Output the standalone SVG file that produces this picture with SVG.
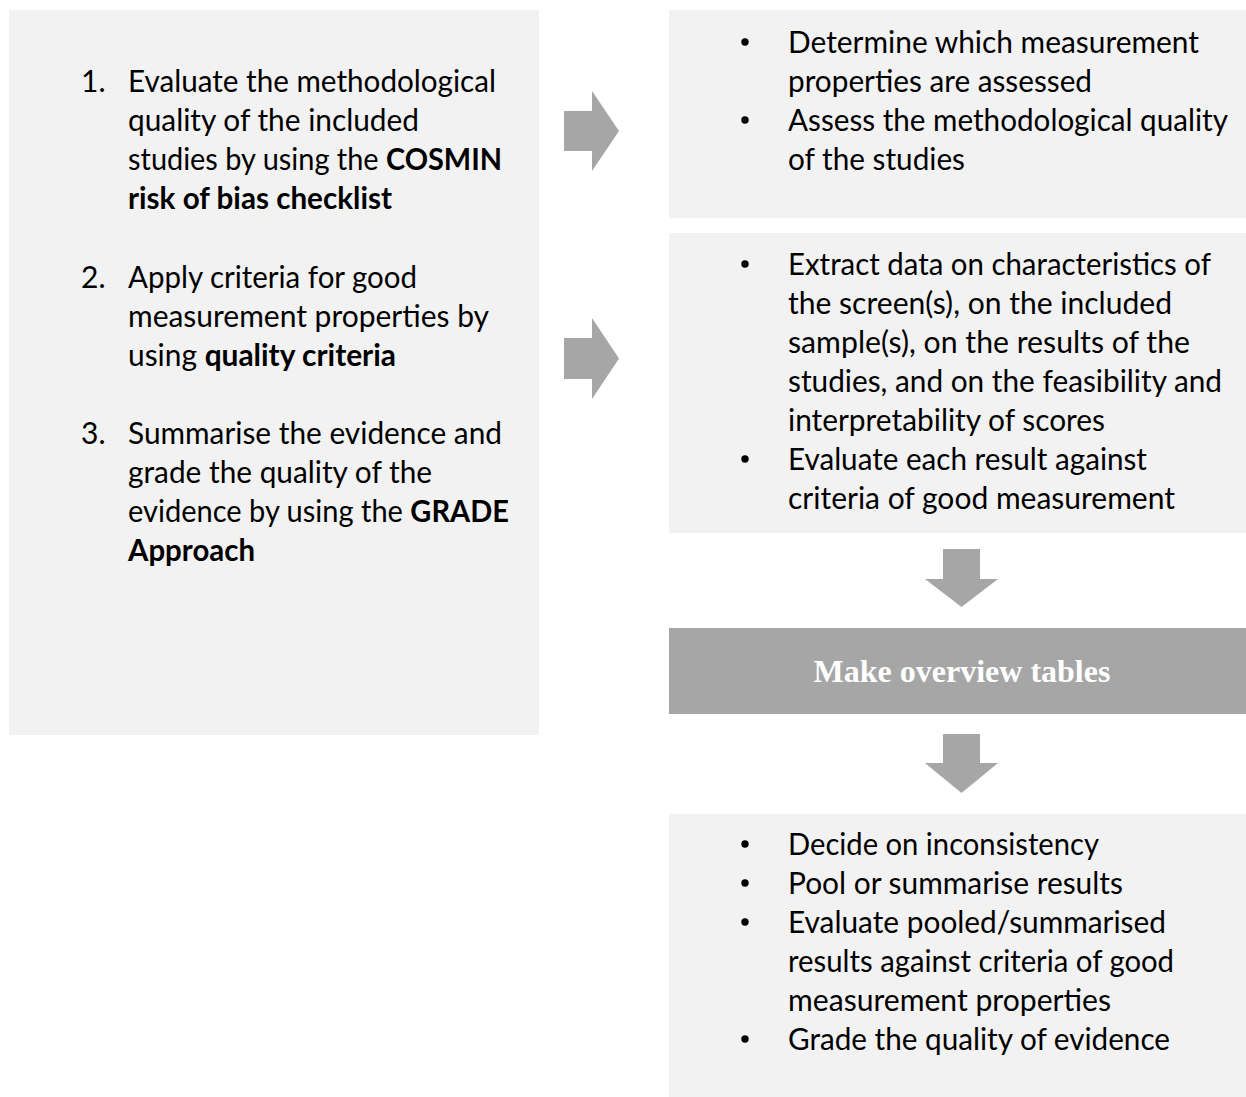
<svg xmlns="http://www.w3.org/2000/svg" width="1246" height="1097" viewBox="0 0 1246 1097">
  <style>
    .panel { fill: #f2f2f2; }
    .bar { fill: #a6a6a6; }
    .block-arrow { fill: #a6a6a6; }
    .t { font-family: Lato, "Open Sans", "Liberation Sans", sans-serif; font-size: 30px; fill: #000000; }
    .b { font-weight: bold; }
    .dot { fill: #000000; }
    .bar-label { font-family: "Liberation Serif", "DejaVu Serif", serif; font-size: 32px; font-weight: bold; fill: #ffffff; }
  </style>
  <rect width="1246" height="1097" fill="#ffffff"/>

  <!-- Left panel: the three numbered steps -->
  <g id="steps">
    <rect class="panel" x="9" y="10" width="530" height="725"/>
    <text class="t" x="81" y="92">1.</text>
    <text class="t" x="128" y="92" textLength="368" lengthAdjust="spacingAndGlyphs">Evaluate the methodological</text>
    <text class="t" x="128" y="131" textLength="291" lengthAdjust="spacingAndGlyphs">quality of the included</text>
    <text class="t" x="128" y="170" textLength="374" lengthAdjust="spacingAndGlyphs">studies by using the <tspan class="b">COSMIN</tspan></text>
    <text class="t b" x="128" y="209" textLength="264" lengthAdjust="spacingAndGlyphs">risk of bias checklist</text>

    <text class="t" x="81" y="288">2.</text>
    <text class="t" x="128" y="288" textLength="289" lengthAdjust="spacingAndGlyphs">Apply criteria for good</text>
    <text class="t" x="128" y="327" textLength="361" lengthAdjust="spacingAndGlyphs">measurement properties by</text>
    <text class="t" x="128" y="366" textLength="268" lengthAdjust="spacingAndGlyphs">using <tspan class="b">quality criteria</tspan></text>

    <text class="t" x="81" y="444">3.</text>
    <text class="t" x="128" y="444" textLength="374" lengthAdjust="spacingAndGlyphs">Summarise the evidence and</text>
    <text class="t" x="128" y="483" textLength="304" lengthAdjust="spacingAndGlyphs">grade the quality of the</text>
    <text class="t" x="128" y="522" textLength="381" lengthAdjust="spacingAndGlyphs">evidence by using the <tspan class="b">GRADE</tspan></text>
    <text class="t b" x="128" y="561" textLength="127" lengthAdjust="spacingAndGlyphs">Approach</text>
  </g>

  <!-- Step 1 detail -->
  <g id="assess-quality">
    <rect class="panel" x="669" y="10" width="577" height="208"/>
    <circle class="dot" cx="745" cy="42" r="3.7"/>
    <text class="t" x="788" y="53" textLength="411" lengthAdjust="spacingAndGlyphs">Determine which measurement</text>
    <text class="t" x="788" y="92" textLength="304" lengthAdjust="spacingAndGlyphs">properties are assessed</text>
    <circle class="dot" cx="745" cy="120" r="3.7"/>
    <text class="t" x="788" y="131" textLength="440" lengthAdjust="spacingAndGlyphs">Assess the methodological quality</text>
    <text class="t" x="788" y="170" textLength="177" lengthAdjust="spacingAndGlyphs">of the studies</text>
  </g>

  <!-- Step 2 detail -->
  <g id="extract-data">
    <rect class="panel" x="669" y="233" width="577" height="300"/>
    <circle class="dot" cx="745" cy="264" r="3.7"/>
    <text class="t" x="788" y="275" textLength="423" lengthAdjust="spacingAndGlyphs">Extract data on characteristics of</text>
    <text class="t" x="788" y="314" textLength="384" lengthAdjust="spacingAndGlyphs">the screen(s), on the included</text>
    <text class="t" x="788" y="353" textLength="402" lengthAdjust="spacingAndGlyphs">sample(s), on the results of the</text>
    <text class="t" x="788" y="392" textLength="434" lengthAdjust="spacingAndGlyphs">studies, and on the feasibility and</text>
    <text class="t" x="788" y="431" textLength="317" lengthAdjust="spacingAndGlyphs">interpretability of scores</text>
    <circle class="dot" cx="745" cy="459" r="3.7"/>
    <text class="t" x="788" y="470" textLength="359" lengthAdjust="spacingAndGlyphs">Evaluate each result against</text>
    <text class="t" x="788" y="509" textLength="387" lengthAdjust="spacingAndGlyphs">criteria of good measurement</text>
  </g>

  <!-- Overview tables bar -->
  <g id="overview-tables">
    <rect class="bar" x="669" y="628" width="577" height="86"/>
    <text class="bar-label" x="962" y="682" text-anchor="middle">Make overview tables</text>
  </g>

  <!-- Step 3 detail -->
  <g id="summarise-evidence">
    <rect class="panel" x="669" y="814" width="577" height="283"/>
    <circle class="dot" cx="745" cy="844" r="3.7"/>
    <text class="t" x="788" y="855" textLength="311" lengthAdjust="spacingAndGlyphs">Decide on inconsistency</text>
    <circle class="dot" cx="745" cy="883" r="3.7"/>
    <text class="t" x="788" y="894" textLength="335" lengthAdjust="spacingAndGlyphs">Pool or summarise results</text>
    <circle class="dot" cx="745" cy="922" r="3.7"/>
    <text class="t" x="788" y="933" textLength="378" lengthAdjust="spacingAndGlyphs">Evaluate pooled/summarised</text>
    <text class="t" x="788" y="972" textLength="386" lengthAdjust="spacingAndGlyphs">results against criteria of good</text>
    <text class="t" x="788" y="1011" textLength="323" lengthAdjust="spacingAndGlyphs">measurement properties</text>
    <circle class="dot" cx="745" cy="1039" r="3.7"/>
    <text class="t" x="788" y="1050" textLength="382" lengthAdjust="spacingAndGlyphs">Grade the quality of evidence</text>
  </g>

  <!-- Block arrows linking the steps -->
  <g id="connectors">
    <polygon class="block-arrow" points="564,111 592,111 592,91 619,131 592,171 592,151 564,151"/>
    <polygon class="block-arrow" points="564,338 592,338 592,318 619,358.5 592,399 592,379 564,379"/>
    <polygon class="block-arrow" points="943,549 980,549 980,579 998,579 961.5,607 925,579 943,579"/>
    <polygon class="block-arrow" points="943,734 980,734 980,763 998,763 961.5,793 925,763 943,763"/>
  </g>
</svg>
